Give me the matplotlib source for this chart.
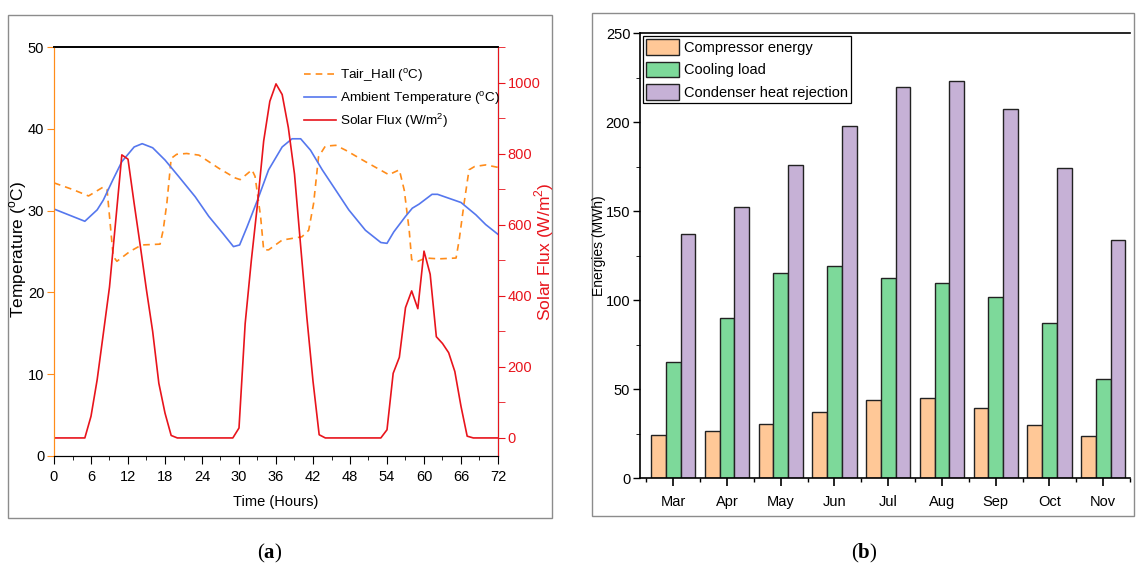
import matplotlib
matplotlib.use('Agg')
import matplotlib.pyplot as plt
from matplotlib.patches import Rectangle
from matplotlib.ticker import MultipleLocator
import numpy as np

plt.rcParams['font.family'] = ['Liberation Sans', 'DejaVu Sans']
plt.rcParams['mathtext.fontset'] = 'custom'
plt.rcParams['mathtext.rm'] = 'Liberation Sans'
plt.rcParams['mathtext.bf'] = 'Liberation Serif:bold'

# (a) three days of hall / ambient temperature and solar flux
amb_h = [0, 5, 7, 8, 9.5, 11, 13, 14.3, 16, 18, 20.2, 22.9, 25.1, 27.4, 29.1, 30.1,
         31.3, 33, 34.8, 37, 38.6, 40, 41.6, 43.5, 45.7, 47.8, 50.5, 53, 54, 55.1,
         57, 58.1, 59.2, 61.3, 62.2, 64.1, 66, 68.4, 70, 72]
amb_T = [30.2, 28.7, 30.1, 31.3, 33.7, 36.0, 37.8, 38.2, 37.7, 36.2, 34.2, 31.7, 29.3,
         27.2, 25.6, 25.8, 28.0, 31.3, 35.0, 37.8, 38.8, 38.8, 37.4, 35.0, 32.5, 30.1,
         27.6, 26.1, 26.0, 27.4, 29.3, 30.3, 30.8, 32.0, 32.0, 31.5, 31.0, 29.5, 28.3, 27.1]

hall_h = [0, 3, 5.6, 8, 8.6, 9.1, 9.6, 10.2, 12.3, 14.2, 17.2, 17.7, 18.3, 19, 19.9,
          21.5, 23.5, 26.7, 29.4, 30.2, 32.1, 32.6, 33.5, 34, 34.8, 37, 40.2, 41.3,
          42.1, 42.9, 44, 45.7, 47.3, 50.5, 54.3, 56, 56.8, 57.6, 58, 59, 60.3, 62.4,
          65.2, 65.7, 66.5, 67.3, 68.2, 70, 72]
hall_T = [33.4, 32.6, 31.8, 32.9, 32.6, 28.5, 24.4, 23.8, 25.0, 25.8, 25.9, 27.6, 30.9,
          36.4, 36.9, 37.0, 36.8, 35.2, 34.0, 33.8, 35.0, 34.2, 29.3, 25.2, 25.2, 26.4,
          26.8, 27.6, 30.9, 36.6, 37.9, 38.0, 37.4, 36.0, 34.4, 35.0, 32.5, 27.6, 24.0,
          23.8, 24.2, 24.1, 24.2, 26.4, 30.9, 35.0, 35.4, 35.6, 35.3]

sol_h = list(range(73))
sol_W = [0, 0, 0, 0, 0, 0, 61, 164, 294, 425, 610, 797, 785, 660, 540, 416, 300, 154,
         70, 7, 0, 0, 0, 0, 0, 0, 0, 0, 0, 0, 28, 322, 500, 659, 836, 948, 997, 967,
         874, 743, 540, 340, 160, 9, 0, 0, 0, 0, 0, 0, 0, 0, 0, 0, 23, 182, 227, 367,
         414, 364, 526, 461, 285, 266, 240, 187, 89, 5, 0, 0, 0, 0, 0]

# (b) monthly energies
months = ['Mar', 'Apr', 'May', 'Jun', 'Jul', 'Aug', 'Sep', 'Oct', 'Nov']
compressor = [24.2, 26.4, 30.7, 37.3, 44.2, 45.3, 39.5, 30.1, 23.6]
cooling = [65.4, 90.1, 115.2, 119.5, 112.7, 109.6, 102.0, 87.5, 55.6]
condenser = [137.1, 152.6, 176.0, 198.1, 220.0, 223.2, 207.5, 174.5, 133.7]

W, H = 1137, 571
fig = plt.figure(figsize=(W / 100, H / 100), dpi=100)

def box(x0, y0, x1, y1):
    return [x0 / W, 1 - y1 / H, (x1 - x0) / W, (y1 - y0) / H]

# panel frames
for x0, y0, x1, y1 in [(8, 15, 552, 518), (592, 13, 1134, 516)]:
    fig.patches.append(Rectangle((x0 / W, 1 - y1 / H), (x1 - x0) / W, (y1 - y0) / H,
                                 transform=fig.transFigure, fill=False,
                                 edgecolor='#8c8c8c', lw=1.0))

orange = '#ff8c1a'
blue = '#5577ee'
red = '#e8141c'
deg = r'$^{\mathrm{o}}$C'

ax = fig.add_axes(box(54, 47.3, 498, 455.7))
ax2 = ax.twinx()
l1, = ax.plot(hall_h, hall_T, '--', color=orange, lw=1.2, dashes=(4, 3), label='Tair_Hall (' + deg + ')')
l2, = ax.plot(amb_h, amb_T, '-', color=blue, lw=1.2, label='Ambient Temperature (' + deg + ')')
l3, = ax2.plot(sol_h, sol_W, '-', color=red, lw=1.2, label='Solar Flux (W/m$^{2}$)')

ax.set_xlim(0, 72)
ax.set_ylim(0, 50)
ax2.set_ylim(-50, 1100)
ax.xaxis.set_major_locator(MultipleLocator(6))
ax.xaxis.set_minor_locator(MultipleLocator(3))
ax.yaxis.set_major_locator(MultipleLocator(10))
ax2.yaxis.set_minor_locator(MultipleLocator(100))
ax2.set_yticks([0, 200, 400, 600, 800, 1000])

ax.tick_params(axis='x', which='major', direction='out', length=6, labelsize=10.5, pad=4)
ax.tick_params(axis='x', which='minor', direction='out', length=3)
ax.tick_params(axis='y', which='major', direction='out', length=5, color=orange, labelsize=10.5, pad=2)
ax2.tick_params(axis='y', which='major', direction='out', length=5, color=red, labelcolor=red,
                labelsize=10.5, pad=2)
ax2.tick_params(axis='y', which='minor', direction='out', length=5, color=red)

ax.spines['left'].set_color(orange)
ax2.spines['left'].set_color(orange)
ax2.spines['right'].set_color(red)
for a in (ax, ax2):
    a.spines['top'].set_linewidth(1.2)

ax.set_xlabel('Time (Hours)', fontsize=10.5, labelpad=8)
fig.text(18 / W, 1 - 250 / H, 'Temperature (' + deg + ')', rotation=90, ha='center',
         va='center', fontsize=12.5)
fig.text(544 / W, 1 - 252 / H, 'Solar Flux (W/m$^{2}$)', rotation=90, ha='center',
         va='center', fontsize=12.5, color=red)

fig.legend(handles=[l1, l2, l3], loc='upper left', bbox_to_anchor=(292 / W, 1 - 55 / H),
           frameon=False, fontsize=9.7, handlelength=2.4, handletextpad=0.3, labelspacing=0.4)

# bar chart
bx = fig.add_axes(box(640, 33.3, 1130, 478.3))
x = np.arange(len(months))
bw = 0.275
colors = ['#ffc897', '#7dd99a', '#c6b1d6']
bx.bar(x - bw, compressor, bw, color=colors[0], edgecolor='#222222', lw=1.0, label='Compressor energy')
bx.bar(x, cooling, bw, color=colors[1], edgecolor='#222222', lw=1.0, label='Cooling load')
bx.bar(x + bw, condenser, bw, color=colors[2], edgecolor='#222222', lw=1.0, label='Condenser heat rejection')
bx.set_xlim(-0.62, 8.5)
bx.set_ylim(0, 250)
bx.set_xticks(x)
bx.set_xticklabels(months)
bx.set_xticks(np.arange(-0.5, 9, 1), minor=True)
bx.yaxis.set_major_locator(MultipleLocator(50))
bx.yaxis.set_minor_locator(MultipleLocator(25))
bx.tick_params(axis='x', which='major', direction='out', length=6, width=1.2, labelsize=10.5, pad=6)
bx.tick_params(axis='x', which='minor', direction='out', length=3, width=1.0)
bx.tick_params(axis='y', which='major', direction='out', length=5, width=1.0, labelsize=10.5, pad=2)
bx.tick_params(axis='y', which='minor', direction='out', length=3)
bx.spines['right'].set_visible(False)
for s in ('left', 'bottom', 'top'):
    bx.spines[s].set_linewidth(1.2)
fig.text(599 / W, 1 - 246 / H, 'Energies (MWh)', rotation=90, ha='center', va='center',
         fontsize=10)
leg = bx.legend(loc='upper left', bbox_to_anchor=(0.0, 1.0), fontsize=10.5, fancybox=False,
                framealpha=1, edgecolor='black', borderaxespad=0.2, borderpad=0.2,
                handlelength=2.3, handleheight=1.3, handletextpad=0.3, labelspacing=0.45)
leg.get_frame().set_linewidth(0.9)

fig.text(270 / W, 1 - 553 / H, r'($\mathbf{a}$)', ha='center', va='center', fontsize=15,
         family='Liberation Serif')
fig.text(864 / W, 1 - 553 / H, r'($\mathbf{b}$)', ha='center', va='center', fontsize=15,
         family='Liberation Serif')

fig.savefig('out.png', dpi=100)
